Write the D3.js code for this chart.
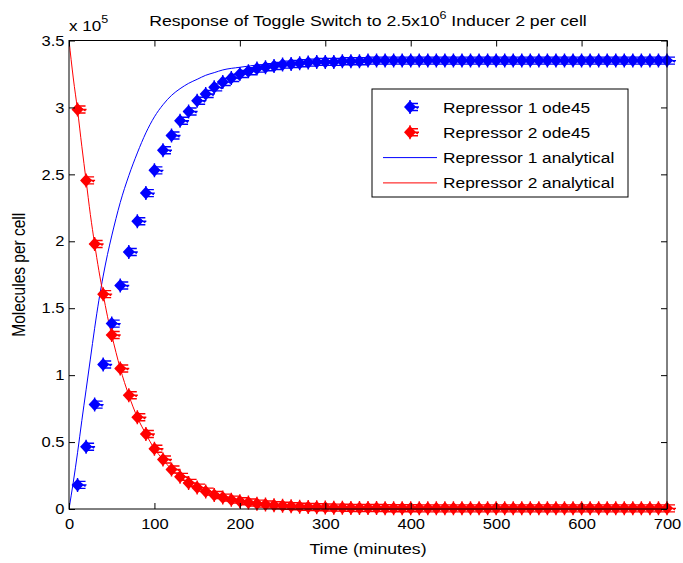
<!DOCTYPE html>
<html>
<head>
<meta charset="utf-8">
<script src="https://cdn.jsdelivr.net/npm/d3@7"></script>
<style>
  body { margin: 0; background: #fff; }
  text { font-family: "Liberation Sans", Arial, sans-serif; fill: #000; }
</style>
</head>
<body>
<div id="chart"></div>
<script>
// ode45 samples every 10 minutes (values in units of 1e5 molecules per cell)
var odeTime = d3.range(10, 701, 10);
var rep1Ode = [0.18, 0.465, 0.78, 1.08, 1.385, 1.67, 1.92, 2.15, 2.36, 2.53,
               2.68, 2.79, 2.90, 2.97, 3.05, 3.10, 3.15, 3.19, 3.22, 3.25,
               3.27, 3.29, 3.30, 3.31, 3.32, 3.325, 3.33, 3.335, 3.34, 3.34,
               3.34, 3.345, 3.345, 3.345, 3.35, 3.35, 3.35, 3.35, 3.35, 3.35,
               3.35, 3.35, 3.35, 3.35, 3.35, 3.35, 3.35, 3.35, 3.35, 3.35,
               3.35, 3.35, 3.35, 3.35, 3.35, 3.35, 3.35, 3.35, 3.35, 3.35,
               3.35, 3.35, 3.35, 3.35, 3.35, 3.35, 3.35, 3.35, 3.35, 3.35];
var rep2Ode = [2.985, 2.455, 1.98, 1.605, 1.30, 1.05, 0.85, 0.685, 0.56, 0.45,
               0.37, 0.295, 0.24, 0.195, 0.16, 0.13, 0.105, 0.085, 0.07, 0.058,
               0.048, 0.04, 0.034, 0.028, 0.024, 0.02, 0.017, 0.015, 0.013, 0.011,
               0.01, 0.009, 0.008, 0.008, 0.007, 0.007, 0.006, 0.006, 0.006, 0.006,
               0.005, 0.005, 0.005, 0.005, 0.005, 0.005, 0.005, 0.005, 0.005, 0.005,
               0.005, 0.005, 0.005, 0.005, 0.005, 0.005, 0.005, 0.005, 0.005, 0.005,
               0.005, 0.005, 0.005, 0.005, 0.005, 0.005, 0.005, 0.005, 0.005, 0.005];

// analytical curves
var anaTime = [0, 5, 10, 15, 20, 25, 30, 35, 40, 45, 50, 55, 60, 70, 80, 90, 100,
               110, 120, 130, 140, 150, 160, 170, 180, 200, 225, 250, 300, 400, 500, 600, 700];
var rep1Ana = [0, 0.2, 0.42, 0.66, 0.89, 1.12, 1.35, 1.56, 1.74, 1.90, 2.04, 2.17, 2.29, 2.49, 2.66, 2.81, 2.93,
               3.02, 3.09, 3.14, 3.18, 3.21, 3.24, 3.26, 3.28, 3.30, 3.32, 3.33, 3.34, 3.35, 3.35, 3.35, 3.35];
var rep2Ana = [3.5, 3.22, 2.98, 2.71, 2.455, 2.2, 1.98, 1.78, 1.605, 1.44, 1.30, 1.17, 1.05, 0.85, 0.685, 0.56, 0.45,
               0.37, 0.295, 0.24, 0.195, 0.16, 0.13, 0.105, 0.085, 0.058, 0.036, 0.024, 0.012, 0.006, 0.005, 0.005, 0.005];

var xTicks = [0, 100, 200, 300, 400, 500, 600, 700];
var yTicks = [0, 0.5, 1, 1.5, 2, 2.5, 3, 3.5];
var legendLabels = ["Repressor 1 ode45", "Repressor 2 ode45", "Repressor 1 analytical", "Repressor 2 analytical"];

var width = 683, height = 563;
var plotLeft = 69, plotRight = 667, plotTop = 40.5, plotBottom = 509;
var stretch = 1.14; // the original figure text is a bit wide

var svg = d3.select("#chart").append("svg")
    .attr("width", width)
    .attr("height", height);

var x = d3.scaleLinear().domain([0, 700]).range([plotLeft, plotRight]);
var y = d3.scaleLinear().domain([0, 3.5]).range([plotBottom, plotTop]);

svg.append("clipPath").attr("id", "clip")
    .append("rect")
    .attr("x", plotLeft).attr("y", plotTop)
    .attr("width", plotRight - plotLeft).attr("height", plotBottom - plotTop);

function label(g, px, py, str, anchor, size) {
    return g.append("text")
        .attr("transform", "translate(" + px + "," + py + ") scale(" + stretch + ",1)")
        .attr("text-anchor", anchor || "start")
        .style("font-size", (size || 14) + "px")
        .text(str);
}

// lines
var line = function(vals){
    return d3.line()
        .x(function(d, i){ return x(anaTime[i]); })
        .y(function(d){ return y(d); })
        .curve(d3.curveMonotoneX)(vals);
};

svg.append("path")
    .attr("clip-path", "url(#clip)")
    .attr("d", line(rep1Ana))
    .attr("fill", "none")
    .attr("stroke", "#0000ff")
    .attr("stroke-width", 1);

svg.append("path")
    .attr("clip-path", "url(#clip)")
    .attr("d", line(rep2Ana))
    .attr("fill", "none")
    .attr("stroke", "#ff0000")
    .attr("stroke-width", 1);

// marker: filled diamond with a ragged asterisk to the right
var markerPath = "M0,-6.5L6,0L0,6.5L-6,0Z";
var tailPath = "M-5,0L9,0M1,-3.5L8,-3.5M1,3.5L8,3.5M0,-7L0,7M3,-1.5L8,1.5";

function drawMarkers(g, vals, color){
    var m = g.selectAll(null)
        .data(vals)
        .enter()
        .append("g")
        .attr("transform", function(d, i){ return "translate(" + x(odeTime[i]) + "," + y(d) + ")"; });
    m.append("path").attr("d", markerPath).attr("fill", color);
    m.append("path").attr("d", tailPath)
        .attr("fill", "none")
        .attr("stroke", color)
        .attr("stroke-width", 1.4);
}

drawMarkers(svg.append("g"), rep1Ode, "#0000ff");
drawMarkers(svg.append("g"), rep2Ode, "#ff0000");

// axes box
svg.append("rect")
    .attr("x", plotLeft).attr("y", plotTop)
    .attr("width", plotRight - plotLeft).attr("height", plotBottom - plotTop)
    .attr("fill", "none")
    .attr("stroke", "#000")
    .attr("stroke-width", 1);

svg.append("g")
    .attr("transform", "translate(0," + plotBottom + ")")
    .call(d3.axisBottom(x).tickValues(xTicks).tickSize(-6).tickSizeOuter(0).tickPadding(10).tickFormat(d3.format("d")));
svg.append("g")
    .attr("transform", "translate(" + plotLeft + ",0)")
    .call(d3.axisLeft(y).tickValues(yTicks).tickSize(-6).tickSizeOuter(0).tickPadding(4).tickFormat(d3.format("~g")));
svg.append("g")
    .attr("transform", "translate(0," + plotTop + ")")
    .call(d3.axisTop(x).tickValues(xTicks).tickSize(-6).tickSizeOuter(0).tickFormat(""));
svg.append("g")
    .attr("transform", "translate(" + plotRight + ",0)")
    .call(d3.axisRight(y).tickValues(yTicks).tickSize(-6).tickSizeOuter(0).tickFormat(""));

svg.selectAll(".domain").remove();
svg.selectAll(".tick line").attr("stroke", "#000");
svg.selectAll(".tick text")
    .style("font-size", "14.5px")
    .style("font-family", "'Liberation Sans', Arial, sans-serif")
    .attr("fill", "#000")
    .attr("transform", "scale(" + stretch + ",1)");

// exponent label
var ex = svg.append("text")
    .attr("transform", "translate(69,31) scale(" + stretch + ",1)")
    .style("font-size", "15px");
ex.append("tspan").text("x 10");
ex.append("tspan").attr("dy", -8).style("font-size", "11px").text("5");

// title
var title = svg.append("text")
    .attr("transform", "translate(" + ((plotLeft + plotRight) / 2) + ",26) scale(" + stretch + ",1)")
    .attr("text-anchor", "middle")
    .style("font-size", "15.5px");
title.append("tspan").text("Response of Toggle Switch to 2.5x10");
title.append("tspan").attr("dy", -7).style("font-size", "11px").text("6");
title.append("tspan").attr("dy", 7).text(" Inducer 2 per cell");

// axis labels
label(svg, (plotLeft + plotRight) / 2, 554, "Time (minutes)", "middle", 15.5);
svg.append("text")
    .attr("transform", "translate(25," + ((plotTop + plotBottom) / 2) + ") rotate(-90) scale(1," + stretch + ")")
    .attr("text-anchor", "middle")
    .style("font-size", "15.5px")
    .text("Molecules per cell");

// legend
var lg = svg.append("g");
lg.append("rect")
    .attr("x", 372).attr("y", 89)
    .attr("width", 256).attr("height", 108)
    .attr("fill", "#fff")
    .attr("stroke", "#000")
    .attr("stroke-width", 1);

var legendColors = ["#0000ff", "#ff0000", "#0000ff", "#ff0000"];
legendLabels.forEach(function(txt, i){
    var cy = 107 + i * 25.3;
    if (i < 2) {
        var m = lg.append("g").attr("transform", "translate(410," + cy + ")");
        m.append("path").attr("d", markerPath).attr("fill", legendColors[i]);
        m.append("path").attr("d", tailPath)
            .attr("fill", "none")
            .attr("stroke", legendColors[i])
            .attr("stroke-width", 1.4);
    } else {
        lg.append("line")
            .attr("x1", 383).attr("x2", 437)
            .attr("y1", cy).attr("y2", cy)
            .attr("stroke", legendColors[i])
            .attr("stroke-width", 1);
    }
    label(lg, 443, cy + 5.5, txt, "start", 15.2);
});
</script>
</body>
</html>
